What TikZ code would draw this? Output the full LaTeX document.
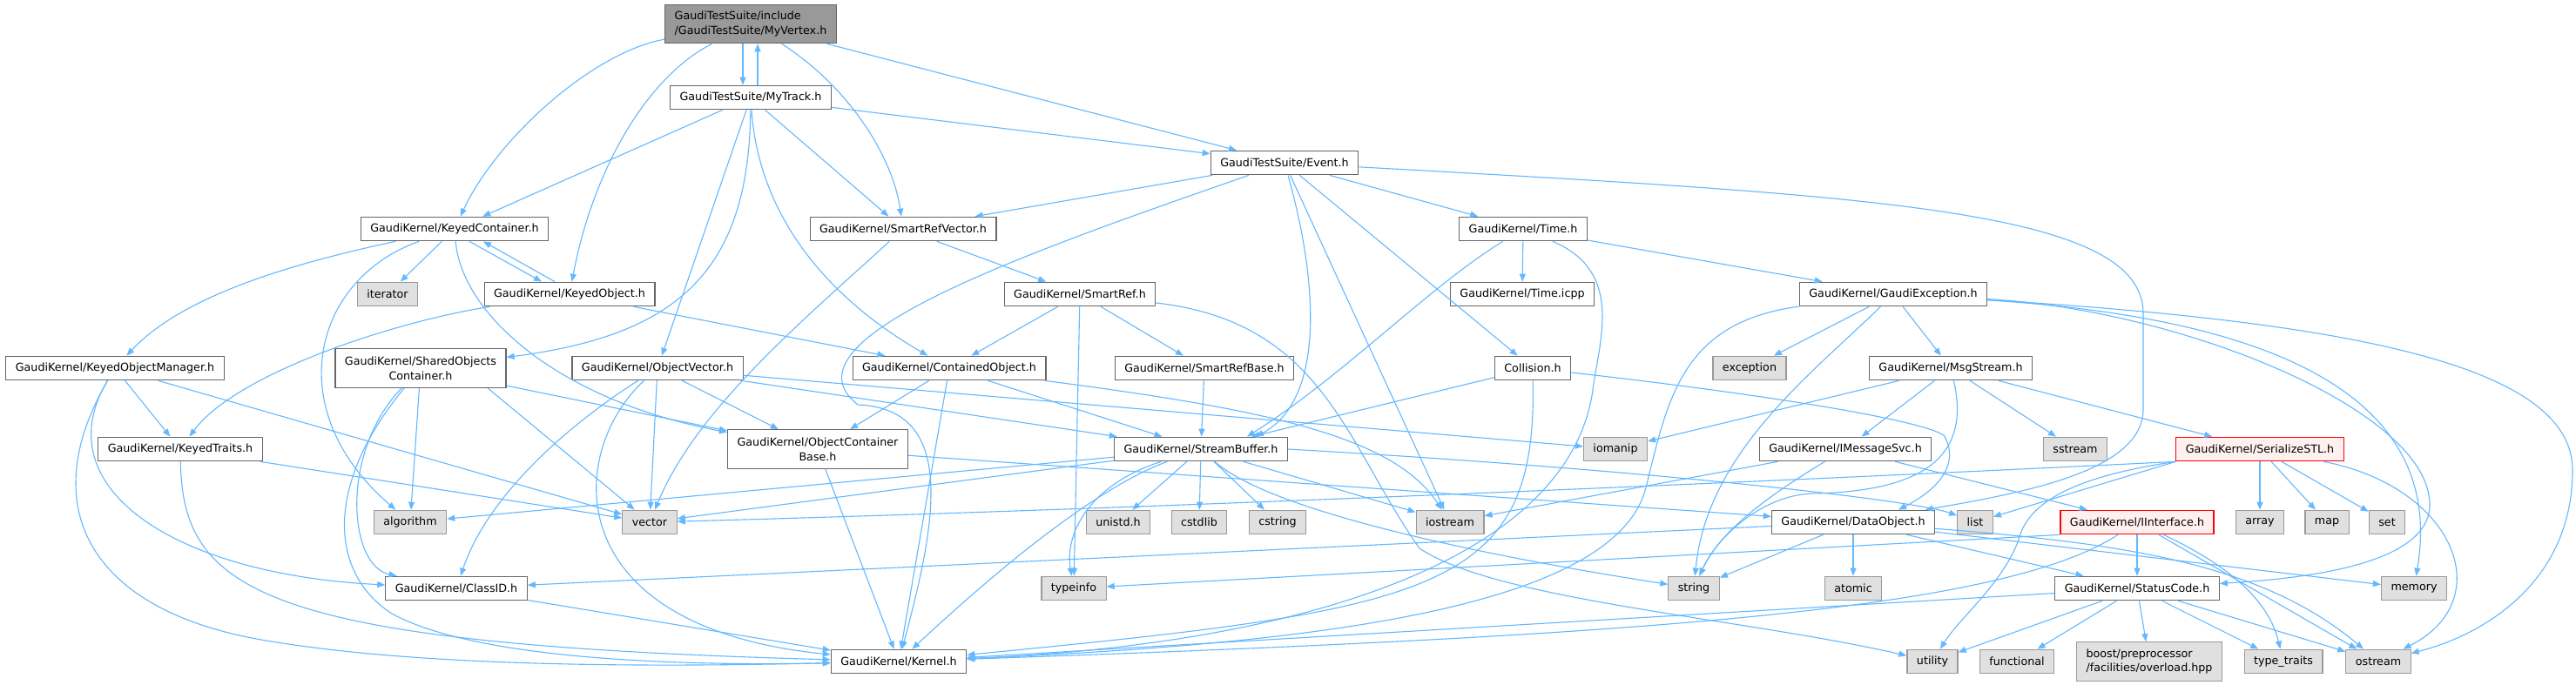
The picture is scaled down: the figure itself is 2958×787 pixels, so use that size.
\documentclass[tikz,border=0pt]{standalone}
\usepackage{fontspec}
\setmainfont{DejaVu Sans}
\usetikzlibrary{arrows.meta}
\definecolor{edgeblue}{HTML}{63B8FF}
\definecolor{boxline}{HTML}{666666}
\definecolor{sysfill}{HTML}{E0E0E0}
\definecolor{sysline}{HTML}{999999}
\definecolor{rootfill}{HTML}{999999}
\definecolor{trunfill}{HTML}{FFF0F0}
\definecolor{trunline}{HTML}{FF0000}

\begin{document}
\begin{tikzpicture}[x=1pt,y=-1pt,
    file/.style={draw=boxline, fill=white, line width=1.2pt,
        font=\fontsize{12.7}{16.7}\selectfont,
        inner xsep=11pt, inner ysep=7.5pt, minimum height=27.5pt, align=center},
    sys/.style={file, draw=sysline, fill=sysfill},
    root/.style={file, fill=rootfill},
    trunc/.style={file, draw=trunline, fill=trunfill},
    twoline/.style={minimum height=44.5pt},
    dep/.style={draw=edgeblue, line width=1.1pt, -{Triangle[length=9pt,width=7pt]}}]
    \useasboundingbox (0,0) rectangle (2958,787);
    \fill[white] (0,0) rectangle (2958,787);

    % Header files
    \node[root,twoline,align=left] (vtx) at (862,27.5) {GaudiTestSuite/include\\/GaudiTestSuite/MyVertex.h};
    \node[file] (trk) at (862,112) {GaudiTestSuite/MyTrack.h};
    \node[file] (evt) at (1475,187) {GaudiTestSuite/Event.h};
    \node[file] (kcont) at (522,263) {GaudiKernel/KeyedContainer.h};
    \node[file] (srvec) at (1037,263) {GaudiKernel/SmartRefVector.h};
    \node[file] (time) at (1749,263) {GaudiKernel/Time.h};
    \node[file] (kobj) at (654,338) {GaudiKernel/KeyedObject.h};
    \node[file] (sref) at (1240,338) {GaudiKernel/SmartRef.h};
    \node[file] (ticpp) at (1748,338) {GaudiKernel/Time.icpp};
    \node[file] (gexc) at (2174,338) {GaudiKernel/GaudiException.h};
    \node[file] (komgr) at (132,423) {GaudiKernel/KeyedObjectManager.h};
    \node[file,twoline] (shobj) at (483,423) {GaudiKernel/SharedObjects\\Container.h};
    \node[file] (ovec) at (755,423) {GaudiKernel/ObjectVector.h};
    \node[file] (cobj) at (1090,423) {GaudiKernel/ContainedObject.h};
    \node[file] (srbase) at (1383,423) {GaudiKernel/SmartRefBase.h};
    \node[file] (coll) at (1760,423) {Collision.h};
    \node[file] (msg) at (2240,423) {GaudiKernel/MsgStream.h};
    \node[file] (ktr) at (207,516) {GaudiKernel/KeyedTraits.h};
    \node[file,twoline] (ocb) at (939,516) {GaudiKernel/ObjectContainer\\Base.h};
    \node[file] (sbuf) at (1379,516) {GaudiKernel/StreamBuffer.h};
    \node[file] (imsg) at (2119,516) {GaudiKernel/IMessageSvc.h};
    \node[trunc] (sstl) at (2595,516) {GaudiKernel/SerializeSTL.h};
    \node[file] (dobj) at (2128,600) {GaudiKernel/DataObject.h};
    \node[trunc] (iint) at (2454,600) {GaudiKernel/IInterface.h};
    \node[file] (classid) at (524,676) {GaudiKernel/ClassID.h};
    \node[file] (stcode) at (2454,676) {GaudiKernel/StatusCode.h};
    \node[file] (kernel) at (1032,760) {GaudiKernel/Kernel.h};

    % System headers
    \node[sys] (iter) at (445,338) {iterator};
    \node[sys] (excp) at (2009,423) {exception};
    \node[sys] (iomanip) at (1855,516) {iomanip};
    \node[sys] (sstream) at (2383,516) {sstream};
    \node[sys] (algo) at (471,600) {algorithm};
    \node[sys] (vec) at (746,600) {vector};
    \node[sys] (unistd) at (1284,600) {unistd.h};
    \node[sys] (cstdlib) at (1377,600) {cstdlib};
    \node[sys] (cstring) at (1467,600) {cstring};
    \node[sys] (iostream) at (1665,600) {iostream};
    \node[sys] (list) at (2268,600) {list};
    \node[sys] (array) at (2595,600) {array};
    \node[sys] (map) at (2672,600) {map};
    \node[sys] (set) at (2741,600) {set};
    \node[sys] (typeinfo) at (1233,676) {typeinfo};
    \node[sys] (string) at (1945,676) {string};
    \node[sys] (atomic) at (2128,676) {atomic};
    \node[sys] (memory) at (2772,676) {memory};
    \node[sys] (utility) at (2219,760) {utility};
    \node[sys] (functional) at (2316,760) {functional};
    \node[sys,twoline,align=left] (boost) at (2468,760) {boost/preprocessor\\/facilities/overload.hpp};
    \node[sys] (typetr) at (2622,760) {type\_traits};
    \node[sys] (ostream) at (2731,760) {ostream};

    % MyVertex.h
    \draw[dep] (vtx) .. controls (680,60) and (570,160) .. (kcont);
    \draw[dep] (vtx) .. controls (740,90) and (680,200) .. (kobj);
    \draw[dep] ([xshift=-9pt]vtx.south) -- ([xshift=-9pt]trk.north);
    \draw[dep] (vtx) .. controls (975,100) and (1025,180) .. (srvec);
    \draw[dep] (vtx) -- (evt);

    % MyTrack.h
    \draw[dep] ([xshift=8pt]trk.north) -- ([xshift=8pt]vtx.south);
    \draw[dep] (trk) -- (kcont);
    \draw[dep] (trk) .. controls (860,310) and (780,385) .. (shobj);
    \draw[dep] (trk) -- (ovec);
    \draw[dep] (trk) .. controls (870,230) and (930,330) .. (cobj);
    \draw[dep] (trk) -- (srvec);
    \draw[dep] (trk) -- (evt);

    % Event.h
    \draw[dep] (evt) -- (srvec);
    \draw[dep] (evt) .. controls (1180,290) and (890,390) .. (985,465)
        .. controls (1100,470) and (1075,600) .. (kernel);
    \draw[dep] (evt) .. controls (1515,330) and (1520,460) .. ([xshift=-37pt]sbuf.north east);
    \draw[dep] (evt) -- (iostream);
    \draw[dep] (evt) -- (coll);
    \draw[dep] (evt) -- (time);
    \draw[dep] (evt) .. controls (2150,225) and (2461,240) .. (2461,360) -- (2461,470)
        .. controls (2461,540) and (2330,565) .. (dobj);

    % Collision.h
    \draw[dep] (coll) -- ([xshift=-42pt]sbuf.north east);
    \draw[dep] (coll) .. controls (1765,680) and (1650,700) .. (kernel);
    \draw[dep] (coll) .. controls (2000,450) and (2200,480) .. (2232,500)
        .. controls (2250,530) and (2230,560) .. ([xshift=52pt]dobj.north);

    % Time.h
    \draw[dep] (time) -- (ticpp);
    \draw[dep] (time) -- (gexc);
    \draw[dep] (time) .. controls (1640,330) and (1545,430) .. ([xshift=-47pt]sbuf.north east);
    \draw[dep] (time) .. controls (1860,310) and (1840,380) .. (1830,440)
        .. controls (1810,640) and (1500,740) .. (kernel);

    % GaudiException.h
    \draw[dep] (gexc) -- (excp);
    \draw[dep] (gexc) -- (msg);
    \draw[dep] (gexc) .. controls (2080,430) and (1960,520) .. (string);
    \draw[dep] (gexc) .. controls (1930,370) and (1915,460) .. (1890,560)
        .. controls (1855,700) and (1500,740) .. (kernel);
    \draw[dep] (gexc) .. controls (2500,355) and (2790,470) .. (2790,580)
        .. controls (2790,650) and (2640,665) .. (stcode);
    \draw[dep] (gexc) .. controls (2600,365) and (2810,450) .. (memory);
    \draw[dep] (gexc) .. controls (2700,370) and (2954,420) .. (2954,540)
        .. controls (2954,670) and (2850,730) .. (ostream);

    % MsgStream.h
    \draw[dep] (msg) -- (iomanip);
    \draw[dep] (msg) -- (imsg);
    \draw[dep] (msg) -- (sstream);
    \draw[dep] (msg) -- (sstl);
    \draw[dep] (msg) .. controls (2265,530) and (2200,565) .. (2080,567)
        .. controls (2020,570) and (1970,620) .. (string);

    % IMessageSvc.h
    \draw[dep] (imsg) -- (iostream);
    \draw[dep] (imsg) .. controls (2030,570) and (1975,610) .. (string);
    \draw[dep] (imsg) -- (iint);

    % SerializeSTL.h
    \draw[dep] (sstl.south west) .. controls (2000,555) and (1300,585) .. (vec);
    \draw[dep] (sstl.south west) -- (list);
    \draw[dep] (sstl.south west) .. controls (2400,545) and (2330,570) .. (2318,620)
        .. controls (2300,670) and (2250,710) .. (utility);
    \draw[dep] (sstl) -- (array);
    \draw[dep] (sstl) -- (map);
    \draw[dep] (sstl) -- (set);
    \draw[dep] (sstl) .. controls (2820,560) and (2870,690) .. (ostream);

    % DataObject.h
    \draw[dep] (dobj) -- (classid);
    \draw[dep] (dobj) -- (string);
    \draw[dep] (dobj) -- (atomic);
    \draw[dep] (dobj) -- (stcode);
    \draw[dep] (dobj) -- (memory);
    \draw[dep] (dobj) .. controls (2450,625) and (2600,650) .. (ostream);

    % IInterface.h
    \draw[dep] (iint.south west) -- (typeinfo);
    \draw[dep] (iint) -- (stcode);
    \draw[dep] (iint) .. controls (2560,650) and (2605,690) .. (typetr);
    \draw[dep] (iint) -- (ostream);
    \draw[dep] (iint) .. controls (2300,700) and (1900,730) .. (kernel);

    % StatusCode.h
    \draw[dep] (stcode) -- (kernel);
    \draw[dep] (stcode) -- (utility);
    \draw[dep] (stcode) -- (functional);
    \draw[dep] (stcode) -- (boost);
    \draw[dep] (stcode) -- (typetr);
    \draw[dep] (stcode) -- (ostream);

    % SmartRef.h and SmartRefVector.h
    \draw[dep] (sref) -- (cobj);
    \draw[dep] (sref) -- (typeinfo);
    \draw[dep] (sref) -- (srbase);
    \draw[dep] (sref) .. controls (1520,370) and (1545,510) .. (1630,630)
        .. controls (1720,690) and (2000,710) .. (utility);
    \draw[dep] (srvec) -- (sref);
    \draw[dep] (srvec) .. controls (920,370) and (800,470) .. (vec);
    \draw[dep] (srbase) -- (sbuf);

    % ContainedObject.h and ObjectContainerBase.h
    \draw[dep] (cobj) -- (ocb);
    \draw[dep] (cobj) -- (kernel);
    \draw[dep] (cobj) -- (sbuf);
    \draw[dep] (cobj) .. controls (1450,470) and (1600,500) .. (iostream);
    \draw[dep] (ocb) -- (kernel);
    \draw[dep] (ocb) -- (dobj);

    % ObjectVector.h
    \draw[dep] (ovec) -- (vec);
    \draw[dep] (ovec) .. controls (650,490) and (560,570) .. (classid);
    \draw[dep] (ovec) .. controls (650,520) and (640,720) .. (kernel);
    \draw[dep] (ovec) -- (ocb);
    \draw[dep] (ovec) -- (sbuf);
    \draw[dep] (ovec) -- (iomanip);

    % SharedObjectsContainer.h
    \draw[dep] (shobj) -- (algo);
    \draw[dep] ([xshift=77pt]shobj.south) -- (vec);
    \draw[dep] (shobj) .. controls (390,520) and (400,650) .. (classid);
    \draw[dep] (shobj) .. controls (370,560) and (380,660) .. (450,705)
        .. controls (550,760) and (800,765) .. (kernel);
    \draw[dep] (shobj) -- (ocb);

    % KeyedContainer.h and KeyedObject.h
    \draw[dep] (kcont) .. controls (300,310) and (200,350) .. (komgr);
    \draw[dep] (kcont) .. controls (360,320) and (320,470) .. (algo);
    \draw[dep] (kcont) -- (iter);
    \draw[dep] ([xshift=17pt]kcont.south) -- ([xshift=-32pt]kobj.north);
    \draw[dep] (kcont) .. controls (530,360) and (640,460) .. (ocb);
    \draw[dep] ([xshift=-17pt]kobj.north) -- ([xshift=33pt]kcont.south);
    \draw[dep] (kobj) .. controls (450,370) and (270,430) .. (ktr);
    \draw[dep] (kobj) -- (cobj);

    % KeyedObjectManager.h, KeyedTraits.h and ClassID.h
    \draw[dep] (komgr) -- (ktr);
    \draw[dep] (komgr) -- (vec);
    \draw[dep] (komgr) .. controls (50,560) and (200,660) .. (classid);
    \draw[dep] (komgr) .. controls (40,580) and (100,700) .. (300,735)
        .. controls (500,770) and (800,765) .. (kernel);
    \draw[dep] (ktr) -- (vec);
    \draw[dep] (ktr) .. controls (210,680) and (300,740) .. (kernel);
    \draw[dep] (classid) -- (kernel);

    % StreamBuffer.h
    \draw[dep] (sbuf) -- (algo);
    \draw[dep] (sbuf) -- (vec);
    \draw[dep] (sbuf) .. controls (1255,555) and (1222,610) .. (typeinfo);
    \draw[dep] (sbuf) .. controls (1260,560) and (1150,650) .. (kernel);
    \draw[dep] (sbuf) -- (unistd);
    \draw[dep] (sbuf) -- (cstdlib);
    \draw[dep] (sbuf) -- (cstring);
    \draw[dep] (sbuf) -- (iostream);
    \draw[dep] (sbuf) .. controls (1450,580) and (1650,630) .. (string);
    \draw[dep] (sbuf.east) .. controls (1900,540) and (2200,575) .. (list);
\end{tikzpicture}
\end{document}
